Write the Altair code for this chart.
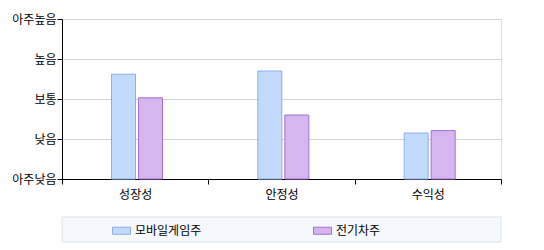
import altair as alt
import pandas as pd

categories = ["성장성", "안정성", "수익성"]
series = ["모바일게임주", "전기차주"]
mobile_game = [2.62, 2.70, 1.15]
ev = [2.03, 1.60, 1.21]
levels = ["아주낮음", "낮음", "보통", "높음", "아주높음"]

rows = []
for i, c in enumerate(categories):
    rows.append({"category": c, "series": series[0], "value": mobile_game[i]})
    rows.append({"category": c, "series": series[1], "value": ev[i]})
df = pd.DataFrame(rows)

FONT = "Noto Sans CJK KR"
label_expr = "[" + ",".join("'%s'" % l for l in levels) + "][datum.value]"

fill_scale = alt.Scale(domain=series, range=["#c2dbfd", "#d6b6ef"])
stroke_scale = alt.Scale(domain=series, range=["#8cadea", "#a56fd3"])

legend = alt.Legend(
    title=None, orient="none", legendX=50, legendY=202, direction="horizontal",
    columns=2, columnPadding=109, labelFont=FONT, labelFontSize=12, labelColor="#000000",
    symbolType="M-1,-0.39H1V0.39H-1Z", symbolSize=324, symbolStrokeWidth=1,
    labelOffset=4, padding=0,
)

bars = alt.Chart(df).mark_bar(strokeWidth=1).encode(
    x=alt.X("category:N", sort=categories, title=None,
            scale=alt.Scale(paddingInner=0, paddingOuter=0),
            axis=alt.Axis(labelAngle=0, tickBand="extent", tickSize=5, tickColor="#000000",
                          domainColor="#000000", labelFont=FONT, labelFontSize=12,
                          labelColor="#000000", labelPadding=5, grid=False)),
    xOffset=alt.XOffset("series:N", sort=series,
                        scale=alt.Scale(paddingInner=0.111, paddingOuter=0, range=[49.5, 100.5])),
    y=alt.Y("value:Q", title=None, scale=alt.Scale(domain=[0, 4], nice=False),
            axis=alt.Axis(values=[0, 1, 2, 3, 4], labelExpr=label_expr, tickSize=5,
                          tickColor="#000000", domainColor="#000000", labelFont=FONT,
                          labelFontSize=12, labelColor="#000000", labelPadding=1,
                          gridColor="#d3d3d3", gridWidth=1)),
    fill=alt.Fill("series:N", scale=fill_scale, legend=legend),
    stroke=alt.Stroke("series:N", scale=stroke_scale, legend=legend),
)

box = alt.Chart(pd.DataFrame({"a": [0]})).mark_rect(
    fill="#f5f8fd", stroke="#dde3ec", strokeWidth=1
).encode(x=alt.value(0), x2=alt.value(439), y=alt.value(198), y2=alt.value(223))

chart = alt.layer(box, bars).properties(
    width=439, height=160,
    padding={"left": 62, "top": 19, "right": 43, "bottom": 71},
    autosize=alt.AutoSizeParams(type="none"),
).configure_view(fill="#f5f5f5", stroke="#c8c8c8").configure(background="#ffffff")

chart.save("out.html", embed_options={"renderer": "svg", "actions": False})
